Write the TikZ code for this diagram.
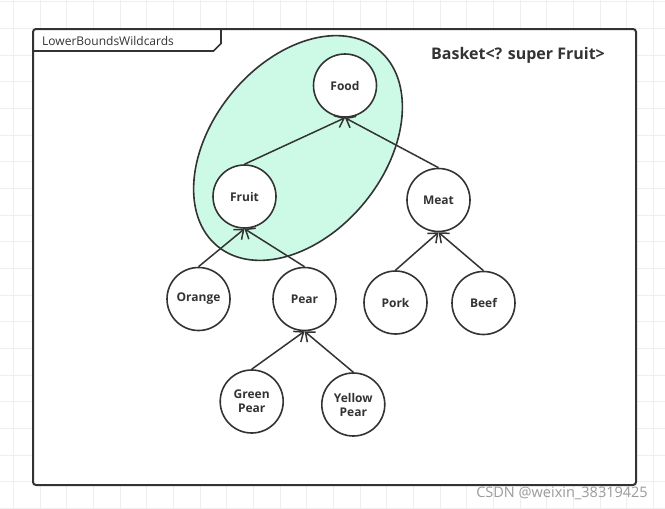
\documentclass[tikz,border=0pt]{standalone}
\usepackage{fontspec}
\setmainfont{Open Sans}
\usetikzlibrary{arrows.meta}
\definecolor{ink}{HTML}{333333}
\definecolor{mint}{HTML}{CCFAE6}
\definecolor{gridc}{HTML}{EEEEEE}
\definecolor{wm}{HTML}{9A9A9A}
\begin{document}
\begin{tikzpicture}[x=1pt,y=-1pt,
  bubble/.style={circle,draw=ink,line width=1.6pt,fill=white,minimum size=63pt,inner sep=0pt,
    font=\fontsize{12}{14}\selectfont\bfseries,text=ink,align=center},
  arr/.style={draw=ink,line width=1.5pt,-{Straight Barb[length=8pt,width=13pt]}},
  gridline/.style={draw=gridc,line width=0.8pt}]
\useasboundingbox (0,0) rectangle (665,509);
\fill[white] (0,0) rectangle (665,509);
\foreach \i in {0,...,24} \draw[gridline] ({13.33+26.67*\i},0) -- ++(0,509);
\foreach \i in {0,...,19} \draw[gridline] (0,{1.6+26.67*\i}) -- ++(665,0);
% frame
\draw[ink,line width=2pt,fill=white,rounded corners=3pt] (33,29) rectangle (636,485);
\draw[ink,line width=1.6pt] (33,51) -- (213.5,51) -- (221,43.5) -- (221,29.5);
\node[anchor=west,font=\fontsize{12}{14}\selectfont,text=ink,inner sep=0pt] (lbl) at (42,40.5) {LowerBoundsWildcards};
\node[font=\fontsize{16}{18}\selectfont\bfseries,text=ink] (title) at (518,55) {Basket<? super Fruit>};
% highlight ellipse
\draw[ink,line width=1.6pt,fill=mint,rotate around={50.7:(298,148)}] (298,148) ellipse [x radius=127, y radius=86];
% nodes
\node[bubble] (food) at (345,85.5) {Food};
\node[bubble] (fruit) at (244.5,196.5) {Fruit};
\node[bubble] (meat) at (438.5,200) {Meat};
\node[bubble] (orange) at (198.5,299) {Orange};
\node[bubble] (pear) at (304.5,299) {Pear};
\node[bubble] (pork) at (395.5,302.5) {Pork};
\node[bubble] (beef) at (483.5,303) {Beef};
\node[bubble] (green) at (251.7,401.5) {Green\\Pear};
\node[bubble] (yellow) at (353.3,404.5) {Yellow\\Pear};
% connectors
\draw[arr] (fruit.north) -- (food.south);
\draw[arr] (meat.north) -- (food.south);
\draw[arr] (orange.north) -- (fruit.south);
\draw[arr] (pear.north) -- (fruit.south);
\draw[arr] (pork.north) -- (meat.south);
\draw[arr] (beef.north) -- (meat.south);
\draw[arr] (green.north) -- (pear.south);
\draw[arr] (yellow.north) -- (pear.south);
% watermark
\node[font=\fontsize{14.5}{16}\selectfont,text=wm,inner sep=0pt] (wmk) at (562,493) {CSDN @weixin\_38319425};
\end{tikzpicture}
\end{document}
